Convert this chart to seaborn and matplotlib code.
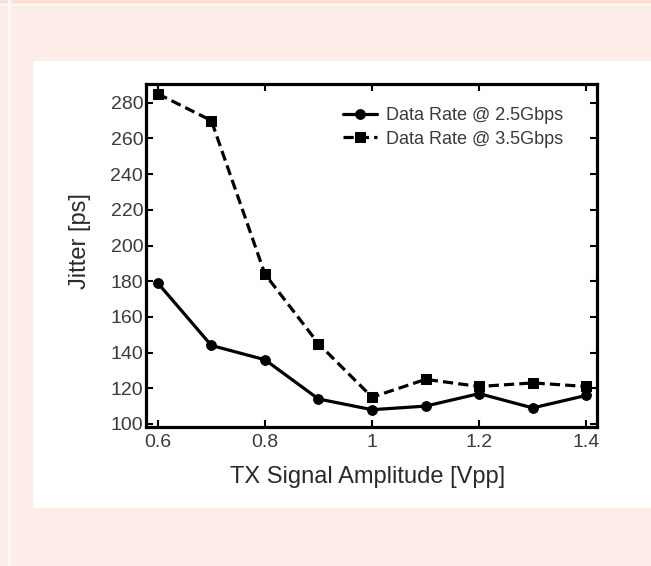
import matplotlib
matplotlib.use("Agg")
import matplotlib.pyplot as plt
import seaborn as sns
import pandas as pd
from matplotlib.patches import Rectangle

amplitude = [0.6, 0.7, 0.8, 0.9, 1.0, 1.1, 1.2, 1.3, 1.4]
jitter_25 = [179, 144, 136, 114, 108, 110, 117, 109, 116]
jitter_35 = [285, 270, 184, 145, 115, 125, 121, 123, 121]
series_names = ["Data Rate @ 2.5Gbps", "Data Rate @ 3.5Gbps"]
x_ticks = [0.6, 0.8, 1.0, 1.2, 1.4]
x_tick_labels = ["0.6", "0.8", "1", "1.2", "1.4"]
y_ticks = [100, 120, 140, 160, 180, 200, 220, 240, 260, 280]

df = pd.DataFrame({
    "amp": amplitude * 2,
    "jitter": jitter_25 + jitter_35,
    "series": [series_names[0]] * len(amplitude) + [series_names[1]] * len(amplitude),
})

sns.set_theme(style="ticks")
plt.rcParams["font.family"] = ["Liberation Sans", "DejaVu Sans"]

W, H = 651, 566
fig = plt.figure(figsize=(W / 100, H / 100), dpi=100)
fig.patch.set_facecolor("#fdede8")

# page decorations
fig.add_artist(Rectangle((0, 1 - 3 / H), 1, 3 / H, transform=fig.transFigure,
                         facecolor="#fde0d4", edgecolor="none", zorder=0))
fig.add_artist(Rectangle((8 / W, 0), 3 / W, 1, transform=fig.transFigure,
                         facecolor="#fff8f6", edgecolor="none", zorder=0))
fig.add_artist(Rectangle((0, 1 - 6 / H), 1, 2 / H, transform=fig.transFigure,
                         facecolor="#fff8f6", edgecolor="none", zorder=0))
fig.add_artist(Rectangle((33 / W, 1 - 508 / H), (W - 33) / W, (508 - 61) / H,
                         transform=fig.transFigure, facecolor="white",
                         edgecolor="none", zorder=0))

left, right, top, bottom = 146, 597, 84, 427
ax = fig.add_axes([left / W, 1 - bottom / H, (right - left) / W, (bottom - top) / H])
ax.set_facecolor("white")

sns.lineplot(data=df, x="amp", y="jitter", hue="series", style="series",
             markers={series_names[0]: "o", series_names[1]: "s"},
             dashes={series_names[0]: "", series_names[1]: (3.2, 1.6)},
             palette={series_names[0]: "black", series_names[1]: "black"},
             linewidth=2.3, markersize=7, markeredgecolor="black", ax=ax)

ax.set_xlim(0.578, 1.42)
ax.set_ylim(98.3, 290.5)
ax.set_xticks(x_ticks)
ax.set_xticklabels(x_tick_labels)
ax.set_yticks(y_ticks)
ax.tick_params(direction="in", length=5, width=1.5, labelsize=14,
               top=True, right=True, colors="black", labelcolor="#3a3a3a", pad=5)
ax.tick_params(axis="y", pad=2)
for s in ax.spines.values():
    s.set_linewidth(2.3)
    s.set_color("black")

ax.set_xlabel("TX Signal Amplitude [Vpp]", fontsize=17, color="#2a2a2a")
ax.set_ylabel("Jitter [ps]", fontsize=17, color="#2a2a2a")
ax.xaxis.set_label_coords((368 - left) / (right - left), (bottom - 477) / (bottom - top))
ax.yaxis.set_label_coords((80 - left) / (right - left), (bottom - 241) / (bottom - top))
ax.xaxis.label.set_va("center")
ax.yaxis.label.set_va("center")

leg = ax.legend(loc="upper right", frameon=False, fontsize=13, handlelength=1.9,
                handletextpad=0.5, borderaxespad=0.6, labelspacing=0.35,
                bbox_to_anchor=(0.965, 0.985))
for t in leg.get_texts():
    t.set_color("#3a3a3a")

fig.savefig("out.png", dpi=100, facecolor=fig.get_facecolor())
